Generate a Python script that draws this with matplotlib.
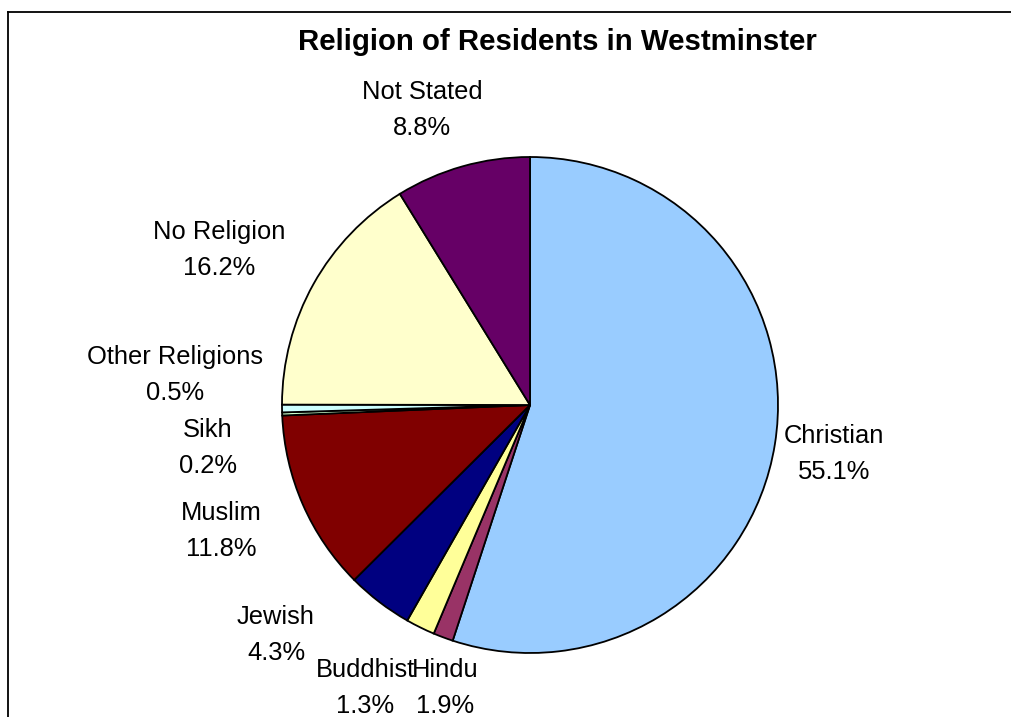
import matplotlib
matplotlib.use("Agg")
import matplotlib.pyplot as plt
from matplotlib.lines import Line2D

# data (percent of residents)
religions = ["Christian", "Buddhist", "Hindu", "Jewish", "Muslim", "Sikh",
             "Other Religions", "No Religion", "Not Stated"]
shares = [55.1, 1.3, 1.9, 4.3, 11.8, 0.2, 0.5, 16.2, 8.8]
colors = ["#99CCFF", "#993366", "#FFFF99", "#000080", "#800000", "#CCFFCC",
          "#CCFFFF", "#FFFFCC", "#660066"]

# label centres in pixels (x, y from top), hand placed like the original
label_pos = [(834, 454), (365, 688), (445, 688), (276, 635), (221, 531),
             (208, 448), (175, 375), (219, 250), (422, 110)]

W, H = 1011, 717
fig = plt.figure(figsize=(W / 100, H / 100), dpi=100)
ax = fig.add_axes([0, 0, 1, 1])

ax.pie(shares, colors=colors, startangle=90, counterclock=False,
       center=(530, H - 405), radius=248, frame=True,
       wedgeprops=dict(edgecolor="black", linewidth=1.3))
ax.set_xlim(0, W)
ax.set_ylim(0, H)
ax.axis("off")

for name, val, (x, y) in zip(religions, shares, label_pos):
    ax.text(x, H - y, "{}\n{:.1f}%".format(name, val), ha="center", va="center",
            fontsize=18.4, family="Liberation Sans", linespacing=1.66)

ax.text(557, H - 42, "Religion of Residents in Westminster", ha="center",
        va="center", fontsize=21.2, fontweight="bold", family="Liberation Sans")

# chart area border (only top and left are inside the picture)
fig.add_artist(Line2D([7.5 / W, 1], [1 - 12 / H, 1 - 12 / H], color="black", lw=1.3))
fig.add_artist(Line2D([7.5 / W, 7.5 / W], [0, 1 - 12 / H], color="black", lw=1.3))

fig.savefig("out.png", dpi=100)
